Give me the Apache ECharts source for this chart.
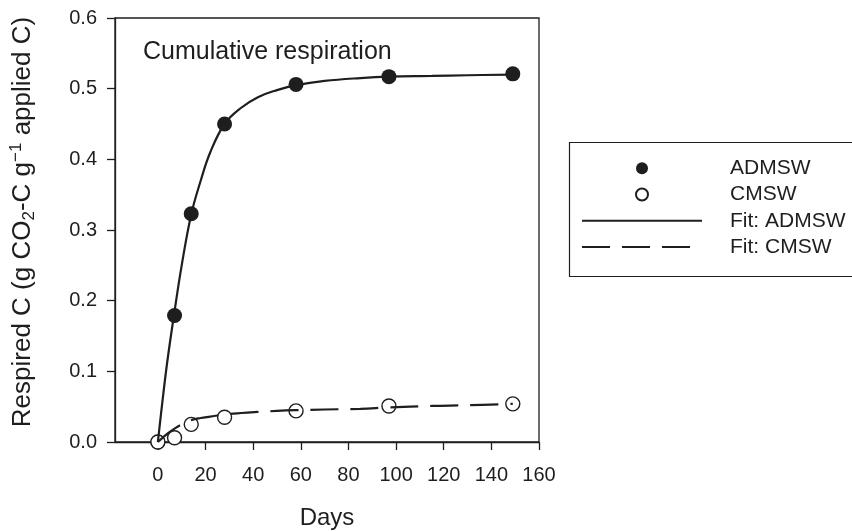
<!DOCTYPE html>
<html>
<head>
<meta charset="utf-8">
<script src="https://cdn.jsdelivr.net/npm/echarts@6/dist/echarts.min.js"></script>
<style>
html,body{margin:0;padding:0;background:#fff;}
#chart{width:852px;height:531px;}
</style>
</head>
<body>
<div id="chart"></div>
<script>
// Measured days and cumulative respired C
var days = [0, 7, 14, 28, 58, 97, 149];
var admsw = [0, 0.179, 0.323, 0.450, 0.506, 0.517, 0.521];
var cmsw = [0, 0.006, 0.025, 0.035, 0.044, 0.051, 0.054];

// Fitted curves
var fitDays = [0, 2, 4, 7, 10, 14, 18, 22, 28, 35, 42, 50, 58, 70, 85, 97, 115, 130, 149];
var fitAdmsw = [0, 0.06, 0.115, 0.185, 0.25, 0.322, 0.37, 0.41, 0.45, 0.473, 0.488, 0.498, 0.505, 0.511, 0.515, 0.517, 0.518, 0.519, 0.520];
var fitCmsw = [0, 0.006, 0.012, 0.019, 0.025, 0.031, 0.034, 0.036, 0.039, 0.041, 0.0425, 0.044, 0.045, 0.046, 0.047, 0.049, 0.051, 0.052, 0.054];

var xTicks = [0, 20, 40, 60, 80, 100, 120, 140, 160];
var seriesNames = ['ADMSW', 'CMSW', 'Fit: ADMSW', 'Fit: CMSW'];

function pairs(xs, ys) { return xs.map(function (x, i) { return [x, ys[i]]; }); }

var ink = '#1e1e1e';
var font = 'Liberation Sans, Arial, sans-serif';

var chart = echarts.init(document.getElementById('chart'), null, {renderer: 'canvas'});
chart.setOption({
  animation: false,
  backgroundColor: '#fff',
  textStyle: {fontFamily: font, color: ink},
  title: {
    text: 'Cumulative respiration',
    left: 143, top: 40, padding: 0,
    textStyle: {fontSize: 25, fontWeight: 'normal', color: ink, fontFamily: font}
  },
  grid: {
    left: 115, right: 313, top: 18, bottom: 89,
    containLabel: false, outerBoundsMode: 'none',
    show: true, borderColor: ink, borderWidth: 1.3, backgroundColor: 'transparent'
  },
  xAxis: {
    type: 'value', min: -18, max: 160,
    name: 'Days', nameLocation: 'middle', nameGap: 64,
    nameTextStyle: {fontSize: 24, color: ink, fontFamily: font},
    axisLine: {show: true, onZero: false, lineStyle: {color: ink, width: 1.3}},
    axisTick: {show: true, length: 8, lineStyle: {color: ink, width: 1.3}, customValues: xTicks},
    axisLabel: {fontSize: 20, color: ink, margin: 23, fontFamily: font, customValues: xTicks},
    splitLine: {show: false}
  },
  yAxis: {
    type: 'value', min: 0, max: 0.6, interval: 0.1,
    name: '{m|Respired C (g CO}{sub|2}{m|-C g}{sup|\u22121}{m| applied C)}',
    nameLocation: 'middle', nameGap: 77, nameRotate: 90,
    nameTextStyle: {
      fontSize: 26, color: ink, fontFamily: font, padding: [0, 0, 0, 16],
      rich: {
        m: {fontSize: 26, fontFamily: font, color: ink, lineHeight: 30, verticalAlign: 'middle'},
        sub: {fontSize: 17, fontFamily: font, color: ink, lineHeight: 30, verticalAlign: 'bottom'},
        sup: {fontSize: 17, fontFamily: font, color: ink, lineHeight: 30, verticalAlign: 'top'}
      }
    },
    axisLine: {show: true, onZero: false, lineStyle: {color: ink, width: 1.3}},
    axisTick: {show: true, length: 8, lineStyle: {color: ink, width: 1.3}},
    axisLabel: {fontSize: 20, color: ink, margin: 18, fontFamily: font, formatter: function (v) { return v.toFixed(1); }},
    splitLine: {show: false}
  },
  legend: {
    orient: 'vertical', left: 581, top: 155,
    data: [
      {name: seriesNames[0]},
      {name: seriesNames[1]},
      {name: seriesNames[2], itemStyle: {opacity: 0}},
      {name: seriesNames[3], itemStyle: {opacity: 0}}
    ],
    itemWidth: 120, itemHeight: 12, itemGap: 0,
    padding: 0,
    textStyle: {fontSize: 21, color: ink, fontFamily: font, lineHeight: 26.3, padding: [0, 0, 0, 23]},
    selectedMode: false
  },
  graphic: [{
    type: 'rect', left: 567, top: 140, z: 10, silent: true,
    shape: {width: 290, height: 134},
    style: {fill: 'none', stroke: ink, lineWidth: 1.2}
  }],
  series: [
    {
      name: seriesNames[0], type: 'scatter', data: pairs(days, admsw), z: 2,
      symbol: 'circle', symbolSize: 15,
      itemStyle: {color: ink, borderColor: ink, borderWidth: 0, opacity: 1}
    },
    {
      name: seriesNames[1], type: 'scatter', data: pairs(days, cmsw), z: 3,
      symbol: 'circle', symbolSize: 14,
      itemStyle: {color: '#fff', borderColor: ink, borderWidth: 1.4, opacity: 1}
    },
    {
      name: seriesNames[2], type: 'line', data: pairs(fitDays, fitAdmsw), z: 4,
      symbol: 'none', smooth: 0.4,
      itemStyle: {color: ink},
      lineStyle: {color: ink, width: 2.2, type: 'solid'}
    },
    {
      name: seriesNames[3], type: 'line', data: pairs(fitDays, fitCmsw), z: 4,
      symbol: 'none', smooth: 0.4,
      itemStyle: {color: ink},
      lineStyle: {color: ink, width: 2.2, type: [28, 12]}
    }
  ]
});
</script>
</body>
</html>
